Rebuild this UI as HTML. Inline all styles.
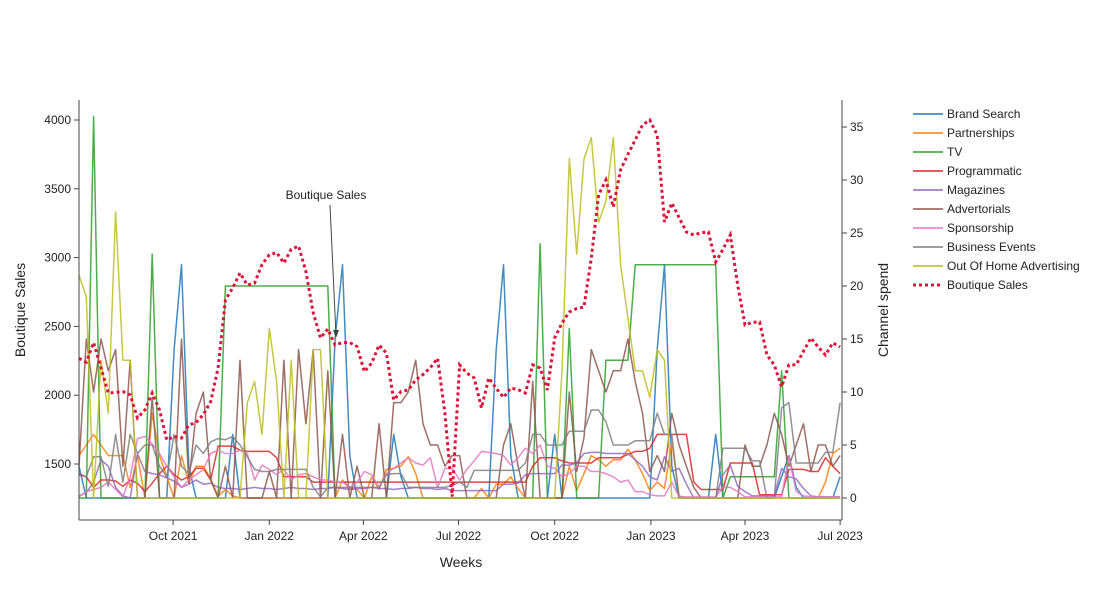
<!DOCTYPE html>
<html><head><meta charset="utf-8">
<style>
body{margin:0;background:#fff;}
svg{display:block;font-family:"Liberation Sans",Arial,sans-serif;}
</style></head>
<body>
<svg id="chart" width="1096" height="600">
  <rect width="1096" height="600" fill="#fff"/>
  <g id="series"></g>
  <g id="axes"></g>
  <text x="461" y="567" font-size="14" text-anchor="middle" fill="#222">Weeks</text>
  <text x="25" y="310" font-size="14" text-anchor="middle" fill="#222" transform="rotate(-90 25 310)">Boutique Sales</text>
  <text x="888" y="310" font-size="14" text-anchor="middle" fill="#222" transform="rotate(-90 888 310)">Channel spend</text>
  <g>
    <text x="326" y="199" font-size="12" text-anchor="middle" fill="#222">Boutique Sales</text>
    <line x1="330" y1="205" x2="336" y2="336" stroke="#444" stroke-width="1"/>
    <path d="M336 338 L333 330 L339 330 Z" fill="#444"/>
  </g>
  <g id="legend"></g>
</svg>
<script>
const startDate = new Date(2021, 6, 3);
const seriesNames = ["Brand Search","Partnerships","TV","Programmatic","Magazines","Advertorials","Sponsorship","Business Events","Out Of Home Advertising"];
const seriesColors = ["#1f77b4","#ff7f0e","#2ca02c","#d62728","#9467bd","#8c564b","#e377c2","#7f7f7f","#bcbd22"];
const salesValues = [2268,2240,2382,2200,2016,2020,2026,2002,1834,1893,
2016,1893,1674,1700,1689,1784,1800,1860,1953,2200,
2692,2780,2888,2801,2815,2950,3020,3036,2961,3060,
3084,2900,2600,2416,2481,2365,2382,2382,2353,2171,
2234,2365,2307,1965,2026,2038,2111,2150,2200,2268,
1871,1263,2220,2160,2125,1907,2125,2050,1984,2052,
2040,2016,2220,2198,2038,2416,2525,2605,2630,2641,
2997,3455,3564,3368,3637,3750,3855,3964,4000,3891,
3259,3397,3290,3186,3164,3180,3186,2968,3060,3164,
2800,2510,2530,2532,2292,2220,2060,2220,2220,2320,
2416,2350,2292,2380,2350];
const brandSearch = [3,0,0,0,0,0,0,0,0,0,
0,0,0,14,22,3,0,0,0,0,
0,6,0,0,0,0,0,0,0,0,
0,0,0,0,0,15,22,4,0,0,
0,0,0,6,2,0,0,0,0,0,
0,0,0,0,0,0,0,14,22,4,
0,0,0,0,0,6,0,0,0,0,
0,0,0,0,0,0,0,0,0,14,
22,3,0,0,0,0,0,6,0,0,
0,0,0,0,0,0,2,4,1,0,
0,0,0,0,2];
const partnerships = [4,5,6,5,4,4,4,1,4,0,
8,4,2,0,4,1.4,3,3,1.8,0.2,
0.8,0.2,0,0,0,0,0,0,0,0,
0,0,0,0,0,0,1.7,0.9,0.8,0,
2,0.8,2.7,2.8,3,3.9,2.3,0,0,0,
0,0,0,0,0,0.9,0,1.3,1.3,2,
0.9,0,0,0,0,0,0,3,0.7,2.3,
4,3.6,3,3.6,3.6,4.6,3.6,2.3,0.7,1.5,
0.9,5.3,0.2,0,0,0,0,0,0,0,
0,0,0,0,0,0,0,0,0,0,
0,0,1.5,4.2,4.7];
const tv = [0,0,36,0,0,0,0,0,0,0,
23,0,0,0,0,0,0,0,0,0,
20,20,20,20,20,20,20,20,20,20,
20,20,20,20,20,0,0,0,0,0,
0,0,0,0,0,0,0,0,0,0,
0,0,0,0,0,0,0,0,0,0,
0,0,0,24,0,0,0,16,0,0,
0,0,13,13,13,13,22,22,22,22,
22,22,22,22,22,22,22,22,0,2,
2,2,2,2,2,2,12,0,0,0,
0,0,0,0,0];
const programmatic = [2.2,2,1,1.7,1.7,1.6,1.1,1.7,1.4,0.6,
1.4,2.3,3,2.2,1.7,2,2.8,2.8,1.7,4.9,
4.9,4.9,4.5,4.4,4.4,4.4,4.4,3.8,2,2,
2,2,1.5,1.5,1.5,1.5,1.5,1.5,1.5,1.5,
1.5,1.5,1.5,1.5,1.5,1.5,1.5,1.5,1.5,1.5,
1.5,1.5,1.5,1.5,1.5,1.5,1.5,1.5,1.5,1.5,
1.5,1.5,3,3.8,3.8,3.8,3.5,3.3,3.3,3.3,
3.3,3.8,3.8,3.8,3.8,4.1,4.4,4.4,4.7,6,
6,6,6,6,1.5,0.8,0.8,0.8,0.8,3.3,
3.3,3.3,3.3,0.3,0.3,0.3,0.3,2.7,2.7,2.7,
2.5,2.5,3.8,3,2.3];
const magazines = [0.2,0.5,1.5,3.6,3,1,0.2,0,4.2,2.5,
2.3,2.2,1.9,1.6,1,1.3,1.7,1.3,1.4,1,
0.9,0.9,0.8,0.9,1,0.9,0.9,0.8,0.9,1,
0.9,0.9,0.8,0.9,0.9,1,0.9,0.8,0.9,0.9,
1,0.9,0.9,0.8,0.9,0.9,1,0.9,0.9,0.8,
0.9,0.7,0.7,0.7,0.7,0.7,0.7,0.7,1.3,1.3,
1.4,2.2,2.3,2.3,2.3,2.3,3.1,3.1,3.3,4.2,
4.3,4.3,4.2,4.2,4.2,4.2,3.6,3,2,1.7,
3.9,2.5,2.8,1.3,0,0,0,0,2.2,3.1,
1.1,0.6,0.2,0.2,0.2,0.2,2.8,2,1.8,0.9,
0.2,0.1,0.1,0.1,0.1];
const advertorials = [3,15,10,15,12,14,3,13,0,0,
9.5,0,0,0,15,1.4,8,10,1.7,0,
3,0,13,0,0,0,2.5,0,13,0,
14,7,14,0,12,0,6,0,3,0,
0,7,0,9,9,10,13,7,5,5,
3,4,4,0,0,0,0,0,5,7,
3,0,11,0,0,0,0,10,2.5,5.7,
14,12,10,12,12,15,11,8,2.5,4,
2.5,8,5,3,1,0,0,0,0,0,
0,5,3,3,5,8,6,3,5,7,
2.5,5,5,3,4];
const sponsorship = [0.1,0.6,0.8,1,1.5,0.8,0.1,2,5.6,5.8,
5.1,4.2,3,2,1,1.7,2.2,2.7,4.2,4.5,
4.2,4.2,4.5,4.2,1.7,3.1,2.7,2.2,2.7,1.7,
2.2,2.3,2,1.7,1.7,1.5,1.5,1,1.5,2.5,
2.2,1,2.3,2.8,3.3,3.8,3.3,3.1,3.8,1,
2.8,2.8,1.7,2.7,3.5,4.4,4.3,4.2,4,3.1,
3.8,4.7,4.2,5,3,2.8,2,2.3,3,3,
2.5,2.5,2.3,2,1.5,1.7,0.6,0.6,0.3,0.2,
0.2,1.5,0.1,0.1,0.1,0.1,0.1,0.1,1,1,
0.6,0.1,0.1,0.1,0.1,0.1,0.1,3.9,0.6,0.2,
0.1,0.1,0.1,0.1,0.1];
const businessEvents = [2.3,2,3.9,3.9,1.1,6,1.5,6,4.2,5,
5,3,2,6,3,2.3,5,4.2,5.3,5.6,
5.5,5.8,5,3.9,2.7,2.5,2.5,2.7,2.7,2.7,
2.7,2.7,1,0.1,1,1,1,1,1,1,
1,1,2.2,2.3,2.3,1,1,1,1,1,
1,1.2,1.5,1,2.6,2.6,2.6,2.6,2.6,2.6,
2.6,3.3,6,6,5,5,5,6.3,6.3,6.3,
8.3,8.3,7.2,5,5,5,5.4,5.4,5.4,8,
6,6,0,0,0,0,0,0,4.7,4.7,
4.7,4.7,3.5,3.5,0,0,8.5,9,3.3,3.3,
3.3,3.3,4.3,4.3,9];
const outOfHome = [21,19,0,13,8,27,13,13,0,0,
0,0,0,0,0,0,0,0,0,0,
0,0,0,9,11,6,16,11,0,13,
0,0,14,14,0,0,0,0,0,0,
0,0,0,0,0,0,0,0,0,0,
0,0,0,0,0,0,0,0,0,0,
0,0,0,0,0,0,12,32,23,32,
34,26,28,34,22,17,12,12,9.5,14,
13,0,0,0,0,0,0,0,0,0,
0,0,0,0,0,0,0,0,0,0,
0,0,0,0,0];
const channelSeries = [brandSearch,partnerships,tv,programmatic,magazines,advertorials,sponsorship,businessEvents,outOfHome];
const leftTicks = [1500,2000,2500,3000,3500,4000];
const rightTicks = [0,5,10,15,20,25,30,35];
const xTickLabels = ["Oct 2021","Jan 2022","Apr 2022","Jul 2022","Oct 2022","Jan 2023","Apr 2023","Jul 2023"];
const xTickDates = [[2021,9,1],[2022,0,1],[2022,3,1],[2022,6,1],[2022,9,1],[2023,0,1],[2023,3,1],[2023,6,1]];

const NS = "http://www.w3.org/2000/svg";
const PL = 79, PR = 842, PT = 100, PB = 520;
const DAY = 86400000;
function xDate(d){ return PL + (d - startDate)/DAY * 1.0455; }
function xIdx(i){ return xDate(new Date(startDate.getTime() + i*7*DAY)); }
function yL(v){ return 120 + (4000 - v) * 68.8/500; }
function yR(v){ return 498 - v * 10.6; }
function mk(tag, attrs, parent){ const e = document.createElementNS(NS, tag); for (const k in attrs) e.setAttribute(k, attrs[k]); parent.appendChild(e); return e; }

const axes = document.getElementById('axes');
const series = document.getElementById('series');
const legend = document.getElementById('legend');

let a = mk('line', {x1:PL,y1:PT,x2:PL,y2:PB,stroke:'#444','stroke-width':1}, axes);
 
a = mk('line', {x1:PR,y1:PT,x2:PR,y2:PB,stroke:'#444','stroke-width':1}, axes);
 
a = mk('line', {x1:PL,y1:PB,x2:PR,y2:PB,stroke:'#444','stroke-width':1}, axes);
 

leftTicks.forEach(v => {
  const y = yL(v);
  const t = mk('line', {x1:PL-5,y1:y,x2:PL,y2:y,stroke:'#444'}, axes);
   
  const l = mk('text', {x:PL-8,y:y+4,'font-size':12,'text-anchor':'end',fill:'#222'}, axes);
  l.textContent = v;
   
});
rightTicks.forEach(v => {
  const y = yR(v);
  const t = mk('line', {x1:PR,y1:y,x2:PR+5,y2:y,stroke:'#444'}, axes);
   
  const l = mk('text', {x:PR+8,y:y+4,'font-size':12,'text-anchor':'start',fill:'#222'}, axes);
  l.textContent = v;
   
});
xTickDates.forEach((d, k) => {
  const x = xDate(new Date(d[0], d[1], d[2]));
  const t = mk('line', {x1:x,y1:PB,x2:x,y2:PB+5,stroke:'#444'}, axes);
   
  const l = mk('text', {x:x,y:PB+20,'font-size':12,'text-anchor':'middle',fill:'#222'}, axes);
  l.textContent = xTickLabels[k];
   
});

channelSeries.forEach((arr, s) => {
  const pts = arr.map((v, i) => xIdx(i).toFixed(1) + ',' + yR(v).toFixed(1)).join(' ');
  const p = mk('polyline', {points:pts,fill:'none',stroke:seriesColors[s],'stroke-width':1.5,'stroke-opacity':0.85,'stroke-linejoin':'round'}, series);
  
  
});
const salesPts = salesValues.map((v, i) => xIdx(i).toFixed(1) + ',' + yL(v).toFixed(1)).join(' ');
const sp = mk('polyline', {points:salesPts,fill:'none',stroke:'#dc143c','stroke-width':3,'stroke-dasharray':'3,3'}, series);



const legNames = seriesNames.concat(["Boutique Sales"]);
legNames.forEach((n, k) => {
  const y = 114 + k*19;
  const g = mk('g', {}, legend);
  
  
  const isSales = k === legNames.length - 1;
  mk('line', isSales ? {x1:913,y1:y,x2:943,y2:y,stroke:'#dc143c','stroke-width':3,'stroke-dasharray':'3,3'} : {x1:913,y1:y,x2:943,y2:y,stroke:seriesColors[k],'stroke-width':1.5}, g);
  const t = mk('text', {x:947,y:y+4,'font-size':12,fill:'#222'}, g);
  t.textContent = n;
});
</script>
</body></html>
